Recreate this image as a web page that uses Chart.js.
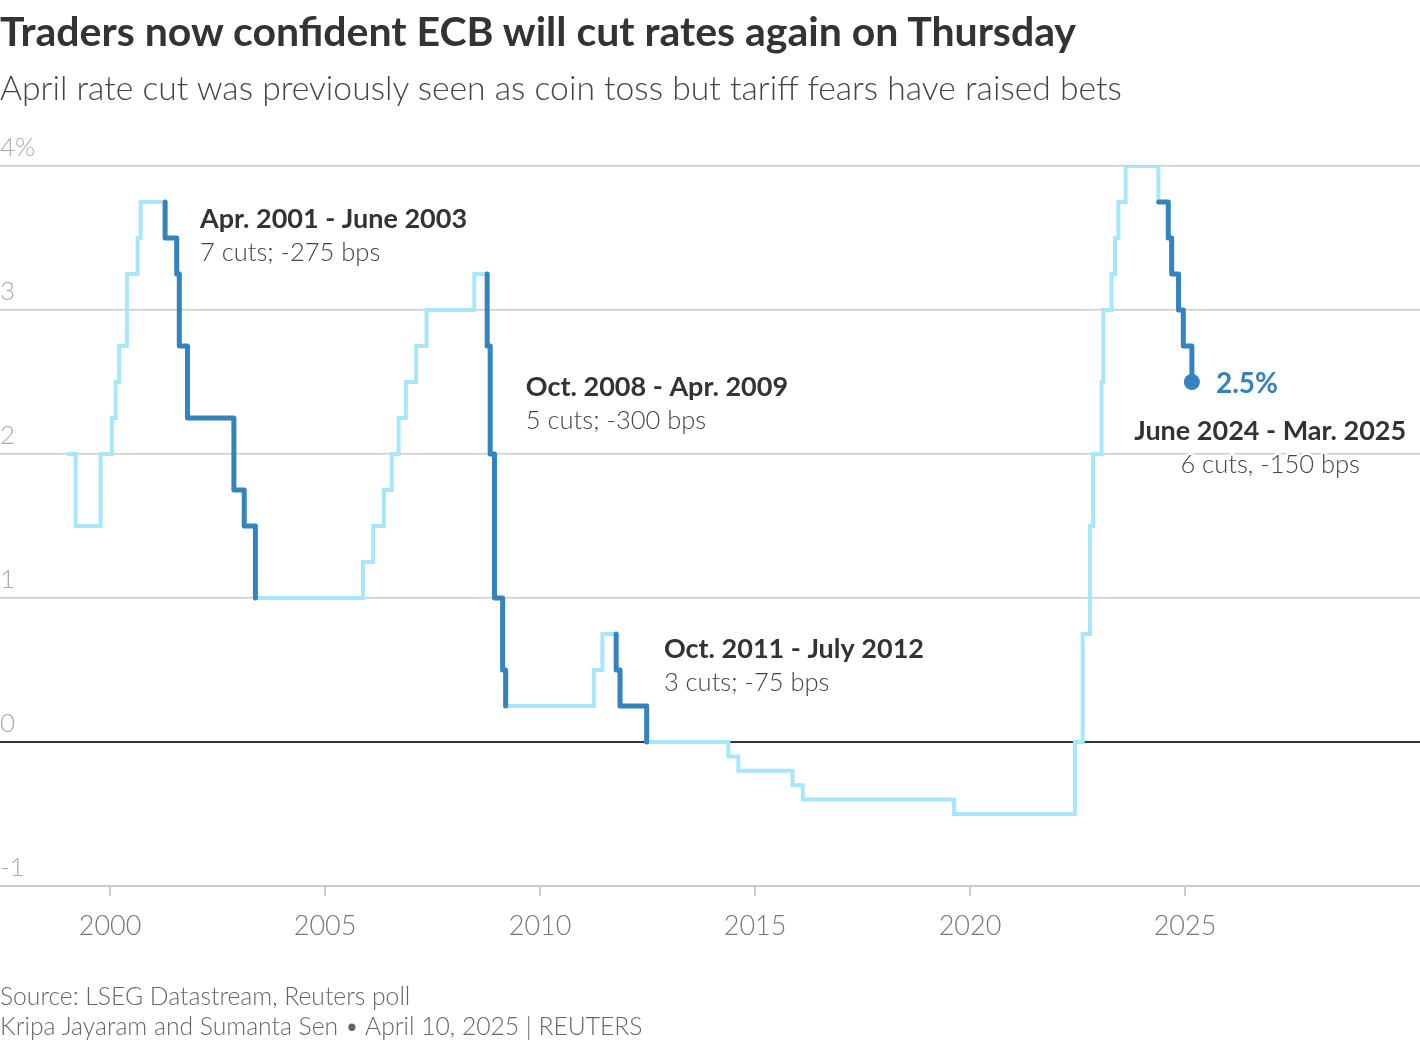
<!DOCTYPE html>
<html>
<head>
<meta charset="utf-8">
<script src="https://cdn.jsdelivr.net/npm/chart.js@4.4.1/dist/chart.umd.min.js"></script>
<style>
  body { margin: 0; background: #fff; }
  #wrap { position: relative; width: 1420px; height: 1040px; overflow: hidden; font-family: Lato, sans-serif; }
  #title { position: absolute; left: 0; top: 9px; font: 700 41px/44px Lato, sans-serif; color: #333; white-space: nowrap; }
  #subtitle { position: absolute; left: 0; top: 67px; font: 300 33.7px/40px Lato, sans-serif; color: #444; white-space: nowrap; }
  .foot { position: absolute; left: 0; font: 300 24.7px/30px Lato, sans-serif; color: #666; white-space: nowrap; }
  canvas { position: absolute; left: 0; top: 0; }
</style>
</head>
<body>
<div id="wrap">
  <canvas id="myChart" width="1420" height="1040"></canvas>
  <div id="title">Traders now confident ECB will cut rates again on Thursday</div>
  <div id="subtitle">April rate cut was previously seen as coin toss but tariff fears have raised bets</div>
  <div class="foot" style="top:981px">Source: LSEG Datastream, Reuters poll</div>
  <div class="foot" style="top:1011px">Kripa Jayaram and Sumanta Sen • April 10, 2025 | REUTERS</div>
</div>
<script>
// ECB deposit rate, date of each change (decimal year) and new level (%)
var dates = [1999.00, 1999.20, 1999.78, 2000.04, 2000.13, 2000.21, 2000.39, 2000.64, 2000.71,
  2001.28, 2001.55, 2001.61, 2001.80, 2002.88, 2003.12, 2003.38,
  2005.88, 2006.12, 2006.37, 2006.55, 2006.71, 2006.88, 2007.12, 2007.36, 2008.47,
  2008.77, 2008.84, 2008.94, 2009.13, 2009.20,
  2011.25, 2011.45, 2011.77, 2011.86, 2012.48,
  2014.38, 2014.61, 2015.87, 2016.11, 2019.63,
  2022.44, 2022.62, 2022.79, 2022.86, 2023.06, 2023.10, 2023.29, 2023.37, 2023.45, 2023.62,
  2024.38, 2024.61, 2024.69, 2024.85, 2024.96, 2025.16];
var rates = [2.00, 1.50, 2.00, 2.25, 2.50, 2.75, 3.25, 3.50, 3.75,
  3.50, 3.25, 2.75, 2.25, 1.75, 1.50, 1.00,
  1.25, 1.50, 1.75, 2.00, 2.25, 2.50, 2.75, 3.00, 3.25,
  2.75, 2.00, 1.00, 0.50, 0.25,
  0.50, 0.75, 0.50, 0.25, 0.00,
  -0.10, -0.20, -0.30, -0.40, -0.50,
  0.00, 0.75, 1.50, 2.00, 2.50, 3.00, 3.25, 3.50, 3.75, 4.00,
  3.75, 3.50, 3.25, 3.00, 2.75, 2.50];

// easing cycles that get highlighted
var cutStarts = [2001.28, 2008.77, 2011.77, 2024.39];
var cutEnds = [2003.38, 2009.20, 2012.48, 2025.16];
var cutTitles = ['Apr. 2001 - June 2003', 'Oct. 2008 - Apr. 2009', 'Oct. 2011 - July 2012', 'June 2024 - Mar. 2025'];
var cutTexts = ['7 cuts; -275 bps', '5 cuts; -300 bps', '3 cuts; -75 bps', '6 cuts, -150 bps'];

var xTicks = [2000, 2005, 2010, 2015, 2020, 2025];
var yTicks = [-1, 0, 1, 2, 3, 4];

var LIGHT = '#a6e7fc';
var DARK = '#3383be';

var allPoints = dates.map(function (d, i) { return { x: d, y: rates[i] }; });

function levelBefore(x) {
  var v = rates[0];
  for (var i = 0; i < dates.length; i++) {
    if (dates[i] < x) v = rates[i];
  }
  return v;
}

var cutSets = cutStarts.map(function (s, k) {
  var pts = [{ x: s, y: levelBefore(s) }];
  for (var i = 0; i < dates.length; i++) {
    if (dates[i] >= s && dates[i] <= cutEnds[k]) pts.push({ x: dates[i], y: rates[i] });
  }
  return {
    data: pts,
    borderColor: DARK,
    borderWidth: 5,
    borderCapStyle: 'round',
    borderJoinStyle: 'round',
    stepped: 'before',
    pointRadius: 0,
    order: 2
  };
});

var last = allPoints[allPoints.length - 1];

// label positions in data units (year, rate)
var notes = [
  { x: 2002.09, y: 3.632, align: 'left' },
  { x: 2009.67, y: 2.465, align: 'left' },
  { x: 2012.88, y: 0.646, align: 'left' },
  { x: 2026.98, y: 2.160, align: 'center' }
];

var notesPlugin = {
  id: 'notes',
  afterDatasetsDraw: function (chart) {
    var c = chart.ctx, xs = chart.scales.x, ys = chart.scales.y;
    c.save();
    c.textBaseline = 'middle';
    c.lineJoin = 'round';
    notes.forEach(function (n, k) {
      var px = xs.getPixelForValue(n.x), py = ys.getPixelForValue(n.y);
      c.textAlign = n.align;
      c.strokeStyle = '#fff';
      c.lineWidth = 5;
      c.font = '700 27px Lato';
      c.fillStyle = '#333';
      c.strokeText(cutTitles[k], px, py);
      c.fillText(cutTitles[k], px, py);
      c.font = '300 25.5px Lato';
      c.fillStyle = '#444';
      c.strokeText(cutTexts[k], px, py + 34);
      c.fillText(cutTexts[k], px, py + 34);
    });
    c.textAlign = 'left';
    c.font = '700 28px Lato';
    c.fillStyle = DARK;
    c.fillText(last.y.toFixed(1) + '%', xs.getPixelForValue(last.x) + 24, ys.getPixelForValue(last.y) + 2);
    c.restore();
  }
};

var ctx = document.getElementById('myChart').getContext('2d');
var myChart = new Chart(ctx, {
  type: 'line',
  data: {
    datasets: cutSets.concat([
      {
        data: allPoints,
        borderColor: LIGHT,
        borderWidth: 4,
        borderJoinStyle: 'miter',
        stepped: 'before',
        pointRadius: 0,
        order: 3
      },
      {
        data: [last],
        showLine: false,
        pointRadius: 8,
        pointBackgroundColor: DARK,
        pointBorderWidth: 0,
        order: 1
      }
    ])
  },
  options: {
    responsive: false,
    animation: false,
    layout: { autoPadding: false, padding: { top: 166, bottom: 94, left: 0, right: 0 } },
    plugins: { legend: { display: false }, tooltip: { enabled: false } },
    scales: {
      x: {
        type: 'linear',
        min: 1997.44,
        max: 2030.465,
        afterBuildTicks: function (s) { s.ticks = xTicks.map(function (v) { return { value: v }; }); },
        afterFit: function (s) { s.height = 60; s.paddingLeft = 0; s.paddingRight = 0; },
        ticks: {
          autoSkip: false,
          maxRotation: 0,
          padding: 14,
          color: '#777',
          font: { family: 'Lato', size: 27, weight: '300' },
          callback: function (v) { return String(v); }
        },
        grid: { drawOnChartArea: false, tickLength: 10, color: '#ccc', lineWidth: 2 },
        border: { display: true, color: '#ccc', width: 2 }
      },
      y: {
        min: -1,
        max: 4,
        afterBuildTicks: function (s) { s.ticks = yTicks.map(function (v) { return { value: v }; }); },
        afterFit: function (s) { s.width = 0; s.paddingTop = 0; s.paddingBottom = 0; },
        ticks: {
          mirror: true,
          padding: 0,
          crossAlign: 'near',
          labelOffset: -18,
          color: '#aaa',
          font: { family: 'Lato', size: 26, weight: '300' },
          callback: function (v) { return v === 4 ? '4%' : String(v); }
        },
        grid: {
          drawTicks: false,
          color: function (c) { return c.tick && c.tick.value === 0 ? '#333' : '#ccc'; },
          lineWidth: function (c) { return c.tick && c.tick.value === 0 ? 2 : 1.5; }
        },
        border: { display: false }
      }
    }
  },
  plugins: [notesPlugin]
});
</script>
</body>
</html>
